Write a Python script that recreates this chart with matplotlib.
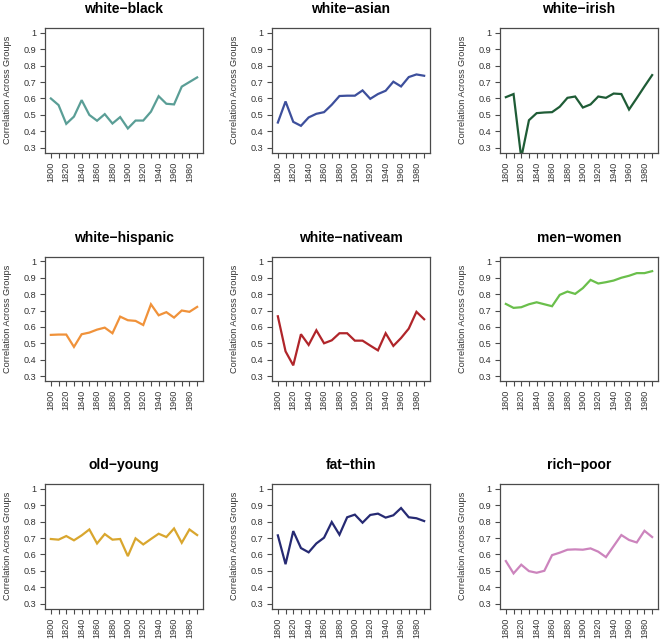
"""Correlation across groups over time: 3x3 grid of R-style base plots."""
import matplotlib
matplotlib.use("Agg")
import matplotlib.pyplot as plt

plt.rcParams["font.family"] = ["Liberation Sans", "DejaVu Sans"]

years = list(range(1800, 2000, 10))

titles = ["white\u2212black", "white\u2212asian", "white\u2212irish",
          "white\u2212hispanic", "white\u2212nativeam", "men\u2212women",
          "old\u2212young", "fat\u2212thin", "rich\u2212poor"]

white_black = [0.600, 0.560, 0.446, 0.490, 0.590, 0.500, 0.465, 0.505, 0.448, 0.487,
               0.418, 0.466, 0.466, 0.520, 0.614, 0.568, 0.564, 0.672, 0.700, 0.728]
white_asian = [0.454, 0.582, 0.458, 0.434, 0.485, 0.507, 0.517, 0.562, 0.615, 0.617,
               0.617, 0.649, 0.598, 0.627, 0.647, 0.702, 0.673, 0.730, 0.746, 0.738]
white_irish = [0.608, 0.627, 0.240, 0.468, 0.511, 0.515, 0.517, 0.550, 0.604, 0.612,
               0.545, 0.564, 0.612, 0.604, 0.630, 0.627, 0.533, 0.602, 0.673, 0.742]
white_hispanic = [0.552, 0.554, 0.554, 0.479, 0.556, 0.566, 0.584, 0.596, 0.562, 0.663,
                  0.641, 0.637, 0.612, 0.738, 0.671, 0.690, 0.657, 0.700, 0.692, 0.722]
white_nativeam = [0.665, 0.452, 0.367, 0.556, 0.491, 0.580, 0.501, 0.519, 0.562, 0.562,
                  0.517, 0.517, 0.487, 0.458, 0.562, 0.485, 0.533, 0.590, 0.692, 0.647]
men_women = [0.740, 0.716, 0.720, 0.738, 0.750, 0.738, 0.726, 0.795, 0.815, 0.801,
             0.836, 0.886, 0.864, 0.872, 0.882, 0.899, 0.911, 0.927, 0.927, 0.939]
old_young = [0.694, 0.690, 0.712, 0.686, 0.716, 0.752, 0.667, 0.724, 0.690, 0.694,
             0.590, 0.698, 0.661, 0.694, 0.726, 0.706, 0.758, 0.671, 0.752, 0.718]
fat_thin = [0.716, 0.541, 0.742, 0.639, 0.613, 0.667, 0.702, 0.797, 0.720, 0.826,
            0.842, 0.793, 0.840, 0.848, 0.824, 0.838, 0.882, 0.826, 0.820, 0.803]
rich_poor = [0.560, 0.485, 0.538, 0.499, 0.489, 0.501, 0.596, 0.611, 0.629, 0.631,
             0.629, 0.637, 0.617, 0.584, 0.651, 0.718, 0.688, 0.673, 0.744, 0.706]

series = [white_black, white_asian, white_irish, white_hispanic, white_nativeam,
          men_women, old_young, fat_thin, rich_poor]
colors = ["#5a9e96", "#3d4f9c", "#1f5c36", "#f0923a", "#b0252a",
          "#6abf4b", "#d9a62e", "#262a73", "#cc84bd"]

yticks = [0.3, 0.4, 0.5, 0.6, 0.7, 0.8, 0.9, 1.0]
ytick_labels = ["0.3", "0.4", "0.5", "0.6", "0.7", "0.8", "0.9", "1"]

W, H = 660, 642
col_left = [45, 272, 500]
row_top = [28, 256.5, 484]
box_w, box_h = 158, 124.5
EDGE = "#4a4a4a"

fig = plt.figure(figsize=(W / 100, H / 100), dpi=100)
for i, (title, vals, c) in enumerate(zip(titles, series, colors)):
    r, k = divmod(i, 3)
    ax = fig.add_axes([col_left[k] / W, (H - row_top[r] - box_h) / H,
                       box_w / W, box_h / H])
    ax.plot(years, vals, color=c, lw=1.6, solid_joinstyle="miter")
    # R default: 4% padding around the range
    ax.set_xlim(1800 - 0.04 * 190, 1990 + 0.04 * 190)
    ax.set_ylim(0.3 - 0.04 * 0.7, 1.0 + 0.04 * 0.7)
    ax.set_xticks(years)
    ax.set_xticklabels([str(y) if y % 20 == 0 else "" for y in years],
                       rotation=90, fontsize=6.6, color="#333333")
    ax.set_yticks(yticks)
    ax.set_yticklabels(ytick_labels, fontsize=6.6, color="#333333")
    ax.tick_params(direction="out", length=3.8, width=0.8, color=EDGE, pad=2.6)
    for s in ax.spines.values():
        s.set_color(EDGE)
        s.set_linewidth(0.9)
    ax.set_ylabel("Correlation Across Groups", fontsize=6.6, color="#333333",
                  labelpad=8)
    ax.set_title(title, fontsize=10, fontweight="bold", pad=10.5)

fig.savefig("out.png", dpi=100, facecolor="white")
